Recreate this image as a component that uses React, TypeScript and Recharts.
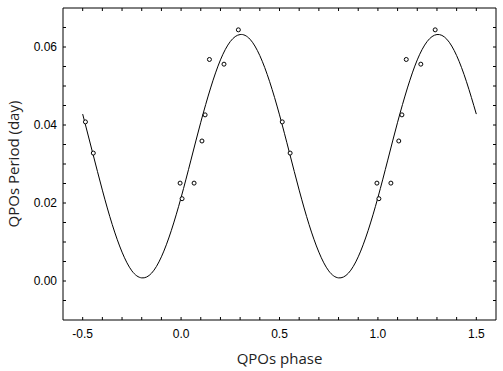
import React from 'react';
import { ComposedChart, Line, Scatter, XAxis, YAxis } from 'recharts';

// fitted curve, every 0.05 in phase
const curvePhase = [
  -0.5, -0.45, -0.4, -0.35, -0.3, -0.25, -0.2, -0.15, -0.1, -0.05,
  0, 0.05, 0.1, 0.15, 0.2, 0.25, 0.3, 0.35, 0.4, 0.45,
  0.5, 0.55, 0.6, 0.65, 0.7, 0.75, 0.8, 0.85, 0.9, 0.95,
  1.0, 1.05, 1.1, 1.15, 1.2, 1.25, 1.3, 1.35, 1.4, 1.45, 1.5,
];
const curvePeriod = [
  0.0428, 0.033, 0.0233, 0.0145, 0.0074, 0.0026, 0.0008, 0.002, 0.0062, 0.0129,
  0.0214, 0.031, 0.0407, 0.0495, 0.0567, 0.0614, 0.0632, 0.062, 0.0578, 0.0511,
  0.0426, 0.033, 0.0233, 0.0145, 0.0074, 0.0026, 0.0008, 0.002, 0.0062, 0.0129,
  0.0214, 0.031, 0.0407, 0.0495, 0.0567, 0.0614, 0.0632, 0.062, 0.0578, 0.0511,
  0.0428,
];

// observed QPOs
const obsPhase = [
  -0.486, -0.446, -0.005, 0.005, 0.066, 0.106, 0.122, 0.144, 0.218, 0.291,
  0.514, 0.554, 0.995, 1.005, 1.066, 1.106, 1.122, 1.144, 1.218, 1.291,
];
const obsPeriod = [
  0.0408, 0.0328, 0.0251, 0.0211, 0.0251, 0.0359, 0.0426, 0.0568, 0.0556, 0.0644,
  0.0408, 0.0328, 0.0251, 0.0211, 0.0251, 0.0359, 0.0426, 0.0568, 0.0556, 0.0644,
];

const xTicks = [
  -0.5, -0.4, -0.3, -0.2, -0.1, 0, 0.1, 0.2, 0.3, 0.4, 0.5, 0.6, 0.7, 0.8, 0.9,
  1.0, 1.1, 1.2, 1.3, 1.4, 1.5,
];
const xLabels = [-0.5, 0, 0.5, 1.0, 1.5];
const yTicks = [
  -0.005, 0, 0.005, 0.01, 0.015, 0.02, 0.025, 0.03, 0.035, 0.04, 0.045, 0.05,
  0.055, 0.06, 0.065,
];
const yLabels = [0, 0.02, 0.04, 0.06];

const curve = curvePhase.map((x, i) => ({ x, y: curvePeriod[i] }));
const points = obsPhase.map((x, i) => ({ x, y: obsPeriod[i] }));

const TICK = 3;
const tickFont = { fontFamily: 'Liberation Sans, Arial, sans-serif', fontSize: 12, fill: '#000' };
const hasLabel = (list: number[], v: number) => list.some((l) => Math.abs(l - v) < 1e-9);

const BottomTick = (props: any) => {
  const { x, y, payload } = props;
  const v = payload.value;
  return (
    <g>
      <line x1={x} x2={x} y1={y} y2={y - TICK} stroke="#000" />
      {hasLabel(xLabels, v) && (
        <text x={x} y={y + 18} textAnchor="middle" style={tickFont}>
          {v.toFixed(1)}
        </text>
      )}
    </g>
  );
};

const TopTick = (props: any) => {
  const { x, y } = props;
  return <line x1={x} x2={x} y1={y} y2={y + TICK} stroke="#000" />;
};

const LeftTick = (props: any) => {
  const { x, y, payload } = props;
  const v = payload.value;
  return (
    <g>
      <line x1={x} x2={x + TICK} y1={y} y2={y} stroke="#000" />
      {hasLabel(yLabels, v) && (
        <text x={x - 6} y={y + 4} textAnchor="end" style={tickFont}>
          {v.toFixed(2)}
        </text>
      )}
    </g>
  );
};

const RightTick = (props: any) => {
  const { x, y } = props;
  return <line x1={x} x2={x - TICK} y1={y} y2={y} stroke="#000" />;
};

const Dot = (props: any) => {
  const { cx, cy } = props;
  return <circle cx={cx} cy={cy} r={2} fill="#fff" stroke="#000" strokeWidth={1} />;
};

const titleFont = { fontFamily: 'Open Sans, sans-serif', fontSize: 15, fill: '#222' };

export default function App() {
  return (
    <div style={{ position: 'fixed', left: 0, top: 0, width: 503, height: 371, background: '#fff' }}>
      <ComposedChart width={503} height={371} margin={{ top: 7, right: 6, bottom: 0, left: 0 }}>
        <XAxis
          xAxisId="b"
          dataKey="x"
          type="number"
          domain={[-0.6, 1.6]}
          allowDataOverflow
          ticks={xTicks}
          interval={0}
          tickSize={0}
          tickMargin={0}
          tickLine={false}
          tick={<BottomTick />}
          height={51}
          stroke="#000"
          label={{ value: 'QPOs phase', position: 'insideBottom', offset: 7, style: titleFont }}
        />
        <XAxis
          xAxisId="t"
          orientation="top"
          dataKey="x"
          type="number"
          domain={[-0.6, 1.6]}
          allowDataOverflow
          ticks={xTicks}
          interval={0}
          tickSize={0}
          tickMargin={0}
          tickLine={false}
          tick={<TopTick />}
          height={1}
          stroke="#000"
        />
        <YAxis
          yAxisId="l"
          type="number"
          domain={[-0.01, 0.07]}
          allowDataOverflow
          ticks={yTicks}
          interval={0}
          tickSize={0}
          tickMargin={0}
          tickLine={false}
          tick={<LeftTick />}
          width={63}
          stroke="#000"
          label={{ value: 'QPOs Period (day)', angle: -90, position: 'center', dx: -17.5, style: titleFont }}
        />
        <YAxis
          yAxisId="r"
          orientation="right"
          type="number"
          domain={[-0.01, 0.07]}
          allowDataOverflow
          ticks={yTicks}
          interval={0}
          tickSize={0}
          tickMargin={0}
          tickLine={false}
          tick={<RightTick />}
          width={1}
          stroke="#000"
        />
        <Line
          xAxisId="b"
          yAxisId="l"
          data={curve}
          dataKey="y"
          type="natural"
          stroke="#000"
          strokeWidth={1}
          dot={false}
          activeDot={false}
          isAnimationActive={false}
        />
        <Scatter
          xAxisId="b"
          yAxisId="l"
          data={points}
          dataKey="y"
          shape={<Dot />}
          isAnimationActive={false}
        />
        <Line
          xAxisId="t"
          yAxisId="r"
          data={curve}
          dataKey="y"
          stroke="none"
          dot={false}
          activeDot={false}
          legendType="none"
          isAnimationActive={false}
        />
      </ComposedChart>
    </div>
  );
}
